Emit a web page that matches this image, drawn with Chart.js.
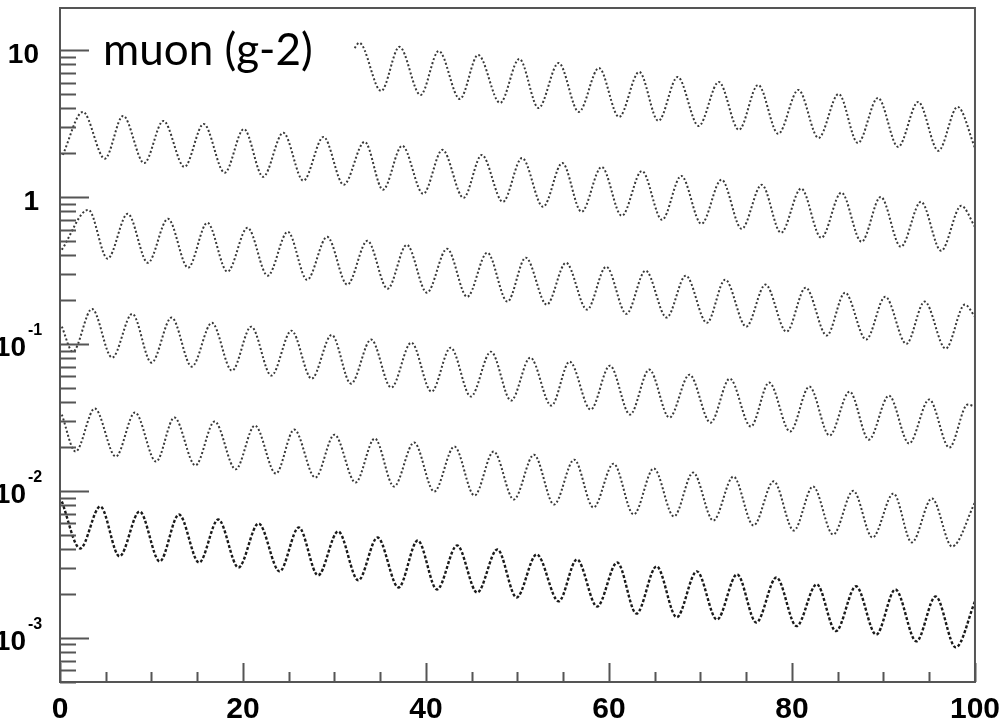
<!DOCTYPE html>
<html>
<head>
<meta charset="utf-8">
<title>muon (g-2)</title>
<script src="https://cdn.jsdelivr.net/npm/chart.js@4.4.1/dist/chart.umd.min.js"></script>
<style>
  html, body { margin: 0; padding: 0; background: #fff; }
  #caja { width: 1002px; height: 724px; }
</style>
</head>
<body>
<div id="caja"><canvas id="grafico" width="1002" height="724"></canvas></div>
<script>
const fila1Tiempo = [32.2, 32.7, 35.1, 37.1, 39.4, 41.4, 43.7, 45.7, 48.1, 50.2, 52.3, 54.5, 56.7, 58.9, 61.1, 63.3, 65.4, 67.5, 69.8, 72.0, 74.2, 76.3, 78.5, 80.7, 82.9, 85.1, 87.2, 89.4, 91.6, 93.8, 96.0, 98.1, 100];
const fila1Cuentas = [10.3, 11.2, 5.26, 10.5, 4.94, 9.84, 4.64, 9.25, 4.36, 8.69, 4.03, 8.16, 3.79, 7.54, 3.50, 7.09, 3.29, 6.55, 3.04, 6.06, 2.86, 5.78, 2.69, 5.35, 2.52, 5.02, 2.33, 4.72, 2.19, 4.43, 2.06, 4.10, 2.16];

const fila2Tiempo = [0.3, 2.5, 4.9, 6.9, 9.2, 11.3, 13.6, 15.7, 18.0, 20.1, 22.2, 24.4, 26.6, 28.8, 31.0, 33.3, 35.3, 37.4, 39.7, 41.8, 44.1, 46.1, 48.4, 50.5, 52.8, 54.9, 57.0, 59.2, 61.4, 63.6, 65.8, 67.9, 70.1, 72.3, 74.5, 76.7, 78.8, 81.0, 83.2, 85.4, 87.6, 89.7, 91.9, 94.1, 96.3, 98.5, 100];
const fila2Cuentas = [1.93, 3.79, 1.82, 3.56, 1.70, 3.29, 1.60, 3.14, 1.46, 2.90, 1.37, 2.73, 1.29, 2.56, 1.21, 2.37, 1.12, 2.23, 1.05, 2.09, 0.986, 1.93, 0.926, 1.84, 0.856, 1.70, 0.792, 1.60, 0.744, 1.50, 0.699, 1.39, 0.656, 1.31, 0.607, 1.21, 0.570, 1.14, 0.527, 1.07, 0.495, 1.00, 0.458, 0.926, 0.430, 0.870, 0.626];

const fila3Tiempo = [0.2, 3.1, 5.2, 7.4, 9.6, 11.8, 14.0, 16.1, 18.3, 20.5, 22.7, 24.9, 27.0, 29.2, 31.4, 33.6, 35.8, 37.9, 40.1, 42.3, 44.5, 46.7, 48.9, 50.9, 53.2, 55.3, 57.6, 59.7, 61.9, 64.0, 66.3, 68.4, 70.7, 72.7, 75.0, 77.1, 79.4, 81.5, 83.8, 85.8, 88.1, 90.2, 92.5, 94.5, 96.8, 98.9, 100];
const fila3Cuentas = [0.437, 0.817, 0.380, 0.768, 0.356, 0.710, 0.330, 0.667, 0.310, 0.617, 0.291, 0.579, 0.273, 0.535, 0.253, 0.503, 0.237, 0.472, 0.223, 0.444, 0.209, 0.417, 0.194, 0.386, 0.185, 0.356, 0.171, 0.335, 0.160, 0.315, 0.151, 0.291, 0.139, 0.273, 0.131, 0.253, 0.121, 0.241, 0.114, 0.223, 0.107, 0.209, 0.100, 0.194, 0.0928, 0.185, 0.153];

const fila4Tiempo = [0.2, 1.4, 3.5, 5.7, 7.9, 10.0, 12.2, 14.4, 16.6, 18.8, 20.9, 23.1, 25.3, 27.5, 29.7, 31.8, 34.0, 36.2, 38.4, 40.6, 42.7, 44.9, 47.1, 49.3, 51.4, 53.7, 55.7, 58.0, 60.1, 62.3, 64.4, 66.6, 68.8, 71.1, 73.2, 75.5, 77.5, 79.8, 81.9, 84.1, 86.3, 88.4, 90.6, 92.8, 95.0, 97.2, 99.2, 100];
const fila4Cuentas = [0.131, 0.0885, 0.173, 0.0806, 0.160, 0.0745, 0.151, 0.0700, 0.139, 0.0657, 0.131, 0.0608, 0.123, 0.0580, 0.115, 0.0536, 0.107, 0.0504, 0.102, 0.0473, 0.0942, 0.0438, 0.0885, 0.0411, 0.0806, 0.0380, 0.0757, 0.0357, 0.0711, 0.0330, 0.0668, 0.0315, 0.0617, 0.0291, 0.0580, 0.0274, 0.0545, 0.0253, 0.0512, 0.0238, 0.0473, 0.0223, 0.0444, 0.0210, 0.0418, 0.0197, 0.0386, 0.0374];

const fila5Tiempo = [0.2, 1.7, 3.8, 6.1, 8.2, 10.5, 12.5, 14.8, 16.9, 19.2, 21.3, 23.6, 25.6, 27.9, 30.0, 32.3, 34.4, 36.5, 38.7, 40.9, 43.1, 45.3, 47.4, 49.6, 51.8, 54.0, 56.2, 58.3, 60.5, 62.7, 64.9, 67.1, 69.2, 71.4, 73.6, 75.8, 78.0, 80.2, 82.3, 84.5, 86.7, 88.8, 91.1, 93.1, 95.3, 97.5, 100];
const fila5Cuentas = [0.0330, 0.0185, 0.0363, 0.0171, 0.0341, 0.0158, 0.0315, 0.0149, 0.0296, 0.0140, 0.0278, 0.0131, 0.0261, 0.0123, 0.0241, 0.0114, 0.0227, 0.0107, 0.0213, 0.00989, 0.0200, 0.00929, 0.0185, 0.00873, 0.0176, 0.00807, 0.0163, 0.00770, 0.0153, 0.00690, 0.0142, 0.00669, 0.0133, 0.00628, 0.0125, 0.00581, 0.0116, 0.00537, 0.0107, 0.00504, 0.0100, 0.00481, 0.00958, 0.00445, 0.00887, 0.00418, 0.00833];

const fila6Tiempo = [0.2, 2.2, 4.4, 6.5, 8.7, 10.9, 13.0, 15.2, 17.3, 19.5, 21.7, 24.0, 26.1, 28.2, 30.4, 32.6, 34.7, 37.0, 39.1, 41.2, 43.4, 45.6, 47.8, 49.9, 52.1, 54.5, 56.5, 58.7, 60.9, 63.0, 65.2, 67.4, 69.6, 71.8, 74.0, 76.1, 78.3, 80.5, 82.7, 84.8, 87.0, 89.2, 91.3, 93.6, 95.7, 97.9, 100];
const fila6Cuentas = [0.00846, 0.00405, 0.00782, 0.00358, 0.00723, 0.00331, 0.00690, 0.00325, 0.00638, 0.00301, 0.00599, 0.00283, 0.00563, 0.00266, 0.00529, 0.00246, 0.00481, 0.00220, 0.00459, 0.00213, 0.00425, 0.00203, 0.00399, 0.00188, 0.00369, 0.00177, 0.00341, 0.00163, 0.00325, 0.00146, 0.00306, 0.00138, 0.00283, 0.00133, 0.00270, 0.00127, 0.00257, 0.00120, 0.00231, 0.00111, 0.00224, 0.00105, 0.00213, 0.000945, 0.00191, 0.000860, 0.00177];

// ejes
const xTicks = [0, 5, 10, 15, 20, 25, 30, 35, 40, 45, 50, 55, 60, 65, 70, 75, 80, 85, 90, 95, 100];
const xEtiquetas = [0, 20, 40, 60, 80, 100];
const yDecadas = [10, 1, 0.1, 0.01, 0.001];
const yEtiquetaBase = ['10', '1', '10', '10', '10'];
const yEtiquetaExp = ['', '', '-1', '-2', '-3'];
const titulo = 'muon (g-2)';

const filas = [
  [fila1Tiempo, fila1Cuentas],
  [fila2Tiempo, fila2Cuentas],
  [fila3Tiempo, fila3Cuentas],
  [fila4Tiempo, fila4Cuentas],
  [fila5Tiempo, fila5Cuentas],
  [fila6Tiempo, fila6Cuentas]
];

const datasets = filas.map(([t, c], i) => ({
  data: t.map((x, k) => ({ x: x, y: c[k] })),
  borderColor: i === 5 ? '#1a1a1a' : '#383838',
  borderWidth: i === 5 ? 2.4 : 2,
  borderDash: i === 5 ? [3, 2] : [2, 2.2],
  cubicInterpolationMode: 'monotone',
  pointRadius: 0,
  fill: false
}));

// marco, marcas hacia dentro (estilo ROOT), etiquetas del eje y y titulo
const marcoYMarcas = {
  id: 'marcoYMarcas',
  afterDraw(chart) {
    const { ctx, chartArea: a, scales } = chart;
    const sx = scales.x, sy = scales.y;
    ctx.save();
    ctx.strokeStyle = '#555';
    ctx.lineWidth = 2;
    ctx.strokeRect(a.left, a.top, a.right - a.left, a.bottom - a.top);

    ctx.beginPath();
    sy.ticks.forEach(t => {
      const py = Math.round(sy.getPixelForValue(t.value)) + 0.5;
      const largo = t.major ? 29 : 16;
      ctx.moveTo(a.left, py);
      ctx.lineTo(a.left + largo, py);
    });
    sx.ticks.forEach(t => {
      const px = Math.round(sx.getPixelForValue(t.value)) + 0.5;
      const largo = xEtiquetas.includes(t.value) ? 19 : 10;
      ctx.moveTo(px, a.bottom);
      ctx.lineTo(px, a.bottom - largo);
    });
    ctx.stroke();

    ctx.fillStyle = '#000';
    yDecadas.forEach((v, i) => {
      const py = sy.getPixelForValue(v);
      ctx.textBaseline = 'alphabetic';
      ctx.font = 'bold 28px "Liberation Sans"';
      ctx.textAlign = 'right';
      if (yEtiquetaExp[i] === '') {
        ctx.fillText(yEtiquetaBase[i], 39, py + 13);
      } else {
        ctx.fillText(yEtiquetaBase[i], 26, py + 12);
        ctx.font = 'bold 16px "Liberation Sans"';
        ctx.textAlign = 'left';
        ctx.fillText(yEtiquetaExp[i], 28, py - 9);
      }
    });

    ctx.font = '44px Lato';
    ctx.textAlign = 'left';
    ctx.textBaseline = 'alphabetic';
    ctx.fillText(titulo, 103, 65);
    ctx.restore();
  }
};

const ctx = document.getElementById('grafico').getContext('2d');
new Chart(ctx, {
  type: 'line',
  data: { datasets: datasets },
  options: {
    responsive: false,
    animation: false,
    layout: { padding: { left: 0, top: 8, right: 25, bottom: 0 } },
    plugins: { legend: { display: false }, tooltip: { enabled: false } },
    scales: {
      x: {
        type: 'linear',
        min: 0,
        max: 100,
        grid: { display: false },
        border: { display: false },
        afterBuildTicks: s => { s.ticks = xTicks.map(v => ({ value: v })); },
        afterFit: s => { s.height = 42; },
        ticks: {
          autoSkip: false,
          maxRotation: 0,
          padding: 2,
          color: '#000',
          font: { family: 'Liberation Sans', size: 30, weight: 'bold' },
          callback: v => xEtiquetas.includes(v) ? String(v) : ''
        }
      },
      y: {
        type: 'logarithmic',
        min: 5e-4,
        max: 19.3,
        grid: { display: false },
        border: { display: false },
        afterBuildTicks: s => {
          const marcas = [];
          [1e-4, 1e-3, 1e-2, 1e-1, 1, 10].forEach(d => {
            for (let m = 1; m <= 9; m++) {
              const v = +(m * d).toPrecision(3);
              if (v >= s.min && v <= s.max) marcas.push({ value: v, major: m === 1 });
            }
          });
          s.ticks = marcas;
        },
        afterFit: s => { s.width = 60; },
        ticks: { display: false }
      }
    }
  },
  plugins: [marcoYMarcas]
});
</script>
</body>
</html>
